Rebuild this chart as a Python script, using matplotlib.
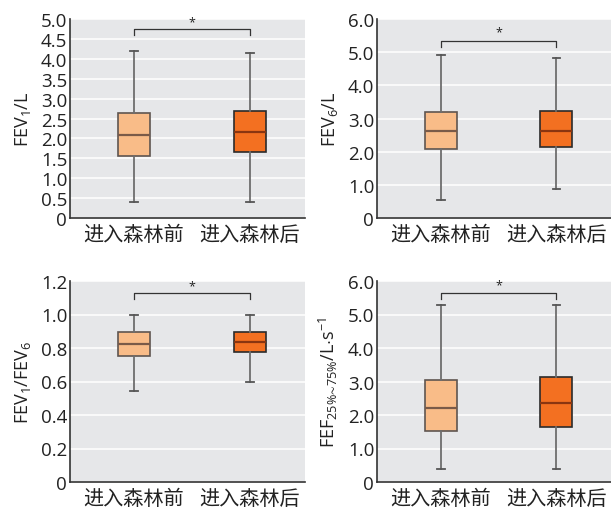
import numpy as np
import matplotlib
matplotlib.use("Agg")
import matplotlib.pyplot as plt

plt.rcParams['font.family'] = ['Open Sans', 'Noto Sans CJK SC', 'DejaVu Sans']
plt.rcParams['mathtext.fontset'] = 'custom'
plt.rcParams['mathtext.rm'] = 'Open Sans'
plt.rcParams['mathtext.it'] = 'Open Sans'

# 组别
grupos = ['进入森林前', '进入森林后']

# 每个面板: [下须, Q1, 中位数, Q3, 上须]
fev1_antes = [0.40, 1.55, 2.08, 2.63, 4.20]
fev1_despues = [0.40, 1.67, 2.15, 2.68, 4.15]

fev6_antes = [0.53, 2.08, 2.63, 3.20, 4.90]
fev6_despues = [0.87, 2.13, 2.62, 3.23, 4.82]

ratio_antes = [0.545, 0.750, 0.822, 0.893, 0.995]
ratio_despues = [0.597, 0.775, 0.835, 0.898, 0.998]

fef_antes = [0.38, 1.53, 2.21, 3.04, 5.27]
fef_despues = [0.38, 1.63, 2.35, 3.13, 5.29]

etiquetas_y = [r'FEV$_{1}$/L', r'FEV$_{6}$/L', r'FEV$_{1}$/FEV$_{6}$',
               r'FEF$_{25\%∼75\%}$/L$\cdot$s$^{-1}$']
ylims = [5.0, 6.0, 1.2, 6.0]
yticks = [np.arange(0, 5.01, 0.5), np.arange(0, 6.01, 1.0),
          np.arange(0, 1.21, 0.2), np.arange(0, 6.01, 1.0)]
bracket_y = [4.75, 5.35, 1.13, 5.65]
star_y = [4.93, 5.6, 1.17, 5.9]

datos = [(fev1_antes, fev1_despues), (fev6_antes, fev6_despues),
         (ratio_antes, ratio_despues), (fef_antes, fef_despues)]

color_claro = '#F9BC88'
color_oscuro = '#F37021'
fondo = '#E6E7E9'

fig = plt.figure(figsize=(6.11, 5.10), dpi=100)
W, H = 611, 510
rects = [(70, 20, 235, 199), (377, 20, 234, 199),
         (70, 282, 235, 201), (377, 282, 234, 201)]

for i, (x0, y0, w, h) in enumerate(rects):
    ax = fig.add_axes([x0 / W, 1 - (y0 + h) / H, w / W, h / H])
    ax.set_facecolor(fondo)
    for k, (valores, color, borde, med) in enumerate([
            (datos[i][0], color_claro, '#5f5550', '#7a5a48'),
            (datos[i][1], color_oscuro, '#2b2b2b', '#8a3510')]):
        st = {'whislo': valores[0], 'q1': valores[1], 'med': valores[2],
              'q3': valores[3], 'whishi': valores[4], 'fliers': []}
        ax.bxp([st], positions=[k + 1], widths=0.275, patch_artist=True,
               showfliers=False,
               boxprops=dict(facecolor=color, edgecolor=borde, linewidth=1.2),
               medianprops=dict(color=med, linewidth=1.6),
               whiskerprops=dict(color='#6e6e6e', linewidth=1.3),
               capprops=dict(color='#555555', linewidth=1.3),
               capwidths=0.065, zorder=3)
    ax.set_xlim(0.448, 2.474)
    ax.set_ylim(0, ylims[i])
    ax.set_yticks(yticks[i])
    etiq = ['{:.1f}'.format(v) for v in yticks[i]]
    etiq[0] = '0'
    ax.set_yticklabels(etiq, fontsize=13.5, color='#222222')
    ax.set_xticks([1, 2])
    ax.set_xticklabels(grupos, fontsize=14.5, color='#222222',
                       family=['Noto Sans CJK SC', 'DejaVu Sans'])
    ax.tick_params(axis='y', length=0, pad=2)
    ax.tick_params(axis='x', length=0, pad=4)
    ax.grid(axis='y', color='white', linewidth=1.1, zorder=0)
    ax.set_axisbelow(True)
    for s in ['top', 'right']:
        ax.spines[s].set_visible(False)
    for s in ['left', 'bottom']:
        ax.spines[s].set_color('#333333')
        ax.spines[s].set_linewidth(1.2)
    ax.set_ylabel(etiquetas_y[i], fontsize=13, color='#222222', labelpad=6)
    # 显著性标记
    d = ylims[i] * 0.03
    ax.plot([1, 1, 2, 2], [bracket_y[i] - d, bracket_y[i], bracket_y[i], bracket_y[i] - d],
            color='#333333', linewidth=0.9, zorder=4)
    ax.text(1.5, star_y[i], '*', ha='center', va='center', fontsize=9, color='#222222')

fig.savefig('out.png', dpi=100)
